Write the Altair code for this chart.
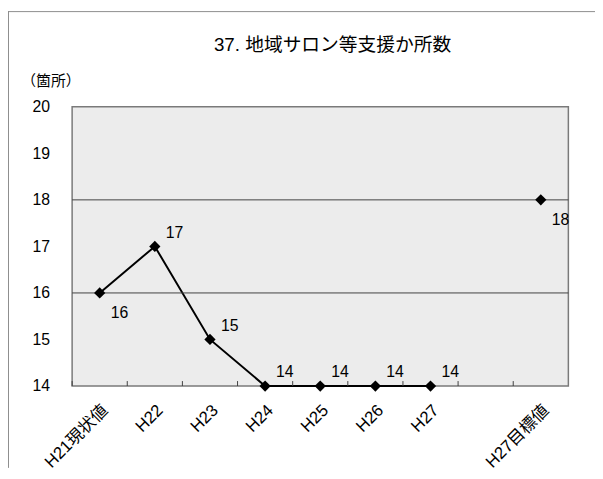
import altair as alt
import pandas as pd

categories = ["H21現状値", "H22", "H23", "H24", "H25", "H26", "H27", " ", "H27目標値"]
values = [16, 17, 15, 14, 14, 14, 14, None, 18]
y_ticks = [14, 15, 16, 17, 18, 19, 20]
grid_values = [16, 18]
title_text = "37. 地域サロン等支援か所数"
unit_text = "（箇所）"
target_cat = "H27目標値"
below_labels = ["H21現状値", "H27目標値"]

FONT = "Liberation Sans, Noto Sans CJK JP"
W, H = 503, 283
PAD = {"left": 65, "top": 97, "right": 27, "bottom": 83}

df = pd.DataFrame({"cat": categories, "val": values})
df["below"] = df["cat"].isin(below_labels)
grid_df = pd.DataFrame({"val": grid_values})
cat_df = pd.DataFrame({"cat": categories})

xscale = alt.Scale(type="band", domain=categories, paddingInner=0, paddingOuter=0)
yscale = alt.Scale(domain=[14, 20], nice=False, zero=False)

x_axis = alt.Axis(title=None, labelAngle=-45, labelAlign="right", labelBaseline="top",
                  ticks=False, domain=False, labelPadding=16, labelFontSize=17,
                  labelFont=FONT, labelColor="#000000")
y_axis = alt.Axis(values=y_ticks, grid=False, ticks=False, domain=False, labelPadding=23,
                  labelFontSize=16, labelFont=FONT, labelColor="#000000",
                  title=unit_text, titleAngle=0, titleX=-52, titleY=-27, titleAlign="left",
                  titleBaseline="middle", titleFontWeight="normal", titleFontSize=15,
                  titleFont=FONT, titleColor="#000000")

x_enc = alt.X("cat:N", scale=xscale, sort=categories, bandPosition=0.5, axis=x_axis)
y_enc = alt.Y("val:Q", scale=yscale, axis=y_axis)

base = alt.Chart(df)

grid = alt.Chart(grid_df).mark_rule(color="#404040", strokeWidth=1).encode(
    y=alt.Y("val:Q", scale=yscale, axis=y_axis)
)

xticks = alt.Chart(cat_df).mark_rule(color="#404040", strokeWidth=1).encode(
    x=alt.X("cat:N", scale=xscale, sort=categories, bandPosition=0, axis=x_axis),
    y=alt.value(H - 5),
    y2=alt.value(H),
)

line = base.transform_filter(
    f"datum.cat != '{target_cat}' && isValid(datum.val)"
).mark_line(color="#000000", strokeWidth=2).encode(x=x_enc, y=y_enc)

points = base.transform_filter("isValid(datum.val)").mark_point(
    shape="diamond", filled=True, color="#000000", size=130, opacity=1
).encode(x=x_enc, y=y_enc)

lab_above = base.transform_filter("isValid(datum.val) && !datum.below").mark_text(
    font=FONT, fontSize=16, color="#000000", dx=20, dy=-14
).encode(x=x_enc, y=y_enc, text="val:Q")

lab_below = base.transform_filter("isValid(datum.val) && datum.below").mark_text(
    font=FONT, fontSize=16, color="#000000", dx=20, dy=20
).encode(x=x_enc, y=y_enc, text="val:Q")

title = alt.Chart(pd.DataFrame({"t": [title_text]})).mark_text(
    font=FONT, fontSize=19, color="#000000", align="center", baseline="middle"
).encode(x=alt.value(264), y=alt.value(-63), text="t:N")

one = pd.DataFrame({"f": [0]})
frame_top = alt.Chart(one).mark_rule(color="#8c8c8c", strokeWidth=1).encode(
    x=alt.value(-PAD["left"]), x2=alt.value(W + PAD["right"]),
    y=alt.value(-PAD["top"] + 0.5),
)
frame_left = alt.Chart(one).mark_rule(color="#8c8c8c", strokeWidth=1).encode(
    x=alt.value(-PAD["left"] + 0.5),
    y=alt.value(-PAD["top"]), y2=alt.value(H + PAD["bottom"]),
)

chart = alt.layer(line, grid, xticks, points, lab_above, lab_below, title,
                  frame_top, frame_left).properties(
    width=W, height=H,
    autosize=alt.AutoSizeParams(type="none"),
    padding=PAD,
).configure_view(
    fill="#ececec", stroke="#7a7a7a", strokeWidth=1.5
).resolve_scale(x="shared", y="shared")

chart.save("out.html", embed_options={"renderer": "svg", "actions": False})
